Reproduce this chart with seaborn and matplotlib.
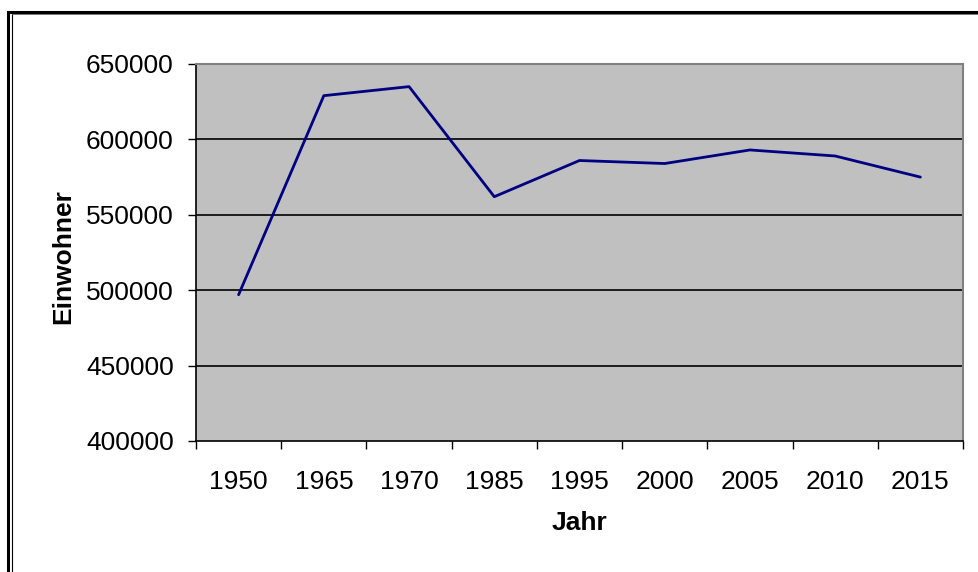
import matplotlib
matplotlib.use("Agg")
import matplotlib.pyplot as plt
import pandas as pd
import seaborn as sns
from matplotlib.patches import Rectangle
from matplotlib.lines import Line2D

# data
years = ["1950", "1965", "1970", "1985", "1995", "2000", "2005", "2010", "2015"]
einwohner = [497000, 629000, 635000, 562000, 586000, 584000, 593000, 589000, 575000]
y_ticks = [400000, 450000, 500000, 550000, 600000, 650000]

df = pd.DataFrame({"Jahr": years, "Einwohner": einwohner})

sns.set_style("white")
plt.rcParams["font.family"] = ["Liberation Sans", "DejaVu Sans"]
plt.rcParams["text.color"] = "black"
plt.rcParams["axes.labelcolor"] = "black"
plt.rcParams["xtick.color"] = "black"
plt.rcParams["ytick.color"] = "black"

fig = plt.figure(figsize=(9.79, 5.72), dpi=100)
ax = fig.add_axes([196 / 979, 1 - 441 / 572, 767 / 979, 377 / 572])
ax.set_facecolor("#c0c0c0")

sns.lineplot(data=df, x="Jahr", y="Einwohner", ax=ax, color="#000080", linewidth=2)

ax.set_ylim(400000, 650000)
ax.set_yticks(y_ticks)
ax.set_yticklabels([str(t) for t in y_ticks])
ax.set_xlim(-0.5, len(years) - 0.5)
ax.set_xticks(range(len(years)))
ax.set_xticks([i - 0.5 for i in range(len(years) + 1)], minor=True)

for t in y_ticks[1:-1]:
    ax.axhline(t, color="black", linewidth=1.2, zorder=1)

ax.tick_params(axis="y", which="major", direction="out", length=6, width=1,
               pad=10, labelsize=19, left=True, color="black")
ax.tick_params(axis="x", which="major", length=0, pad=21, labelsize=19)
ax.tick_params(axis="x", which="minor", direction="out", length=6, width=1,
               bottom=True, color="black")

for side in ["left", "bottom"]:
    ax.spines[side].set_color("black")
    ax.spines[side].set_linewidth(1.2)
for side in ["top", "right"]:
    ax.spines[side].set_visible(True)
    ax.spines[side].set_color("#808080")
    ax.spines[side].set_linewidth(1.5)

ax.set_xlabel("Jahr", fontsize=19, fontweight="bold")
ax.set_ylabel("Einwohner", fontsize=19, fontweight="bold")
ax.xaxis.set_label_coords(0.5, -0.185)
ax.yaxis.set_label_coords(-0.158, 0.49)

# outer frame like the Excel chart area
W, H = 979, 572
fig.patches.append(Rectangle((8.5 / W, -0.1), 1.2, 1 - 11.5 / H + 0.1,
                             transform=fig.transFigure, fill=False,
                             edgecolor="black", linewidth=2.2))
fig.lines.append(Line2D([12 / W, 12 / W], [0, 1 - 14 / H], transform=fig.transFigure,
                        color="black", linewidth=0.8))
fig.lines.append(Line2D([12 / W, 1], [1 - 14 / H, 1 - 14 / H], transform=fig.transFigure,
                        color="#606060", linewidth=0.6))

fig.savefig("out.png", dpi=100)
